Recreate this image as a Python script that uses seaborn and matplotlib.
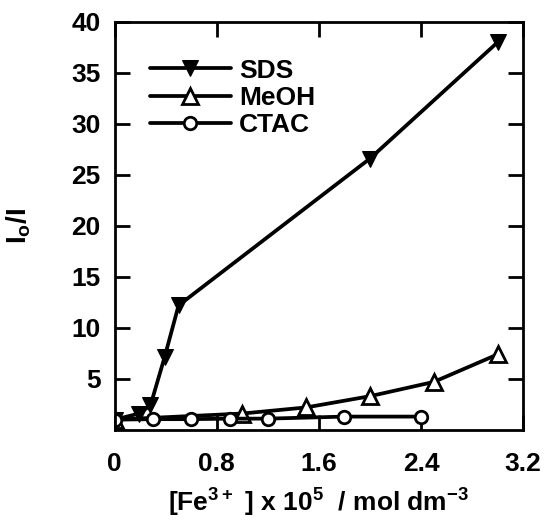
import matplotlib
matplotlib.use("Agg")
import matplotlib.pyplot as plt
import seaborn as sns
import pandas as pd

sns.set_theme(style="ticks")
plt.rcParams['font.family'] = ['Liberation Sans', 'DejaVu Sans']
plt.rcParams['font.weight'] = 'bold'
plt.rcParams['mathtext.default'] = 'regular'
plt.rcParams['text.color'] = 'black'
plt.rcParams['axes.labelcolor'] = 'black'
plt.rcParams['xtick.color'] = 'black'
plt.rcParams['ytick.color'] = 'black'

# Data
sds_x = [0, 0.19, 0.28, 0.39, 0.5, 2.0, 3.0]
sds_y = [1.0, 1.6, 2.4, 7.1, 12.2, 26.6, 38.0]
meoh_x = [0, 1.0, 1.5, 2.0, 2.5, 3.0]
meoh_y = [1.0, 1.6, 2.2, 3.3, 4.7, 7.4]
ctac_x = [0, 0.3, 0.6, 0.9, 1.2, 1.8, 2.4]
ctac_y = [1.0, 1.05, 1.05, 1.1, 1.1, 1.3, 1.3]

x_ticks = [0, 0.8, 1.6, 2.4, 3.2]
x_labels = ["0", "0.8", "1.6", "2.4", "3.2"]
y_ticks = [5, 10, 15, 20, 25, 30, 35, 40]


def main():
    fig = plt.figure(figsize=(5.49, 5.32), dpi=100)
    ax = fig.add_axes([0.209, 0.192, 0.744, 0.767])

    sns.lineplot(x=sds_x, y=sds_y, ax=ax, color="black", lw=2.7, marker="v",
                 ms=12, mfc="black", mec="black", label="SDS")
    sns.lineplot(x=meoh_x, y=meoh_y, ax=ax, color="black", lw=2.7, marker="^",
                 ms=11, mfc="white", mec="black", mew=2, label="MeOH")
    sns.lineplot(x=ctac_x, y=ctac_y, ax=ax, color="black", lw=2.7, marker="o",
                 ms=9, mfc="white", mec="black", mew=2, label="CTAC")

    ax.set_xlim(0, 3.2)
    ax.set_ylim(0, 40)
    ax.set_xticks(x_ticks)
    ax.set_xticklabels(x_labels)
    ax.set_yticks(y_ticks)

    ax.tick_params(direction="in", length=11, width=2, labelsize=19,
                   top=True, right=True)
    ax.tick_params(axis="x", pad=16)
    ax.tick_params(axis="y", pad=10)
    for s in ax.spines.values():
        s.set_linewidth(2)
        s.set_color("black")

    ax.set_xlabel("[Fe$^{3+}$ ] x 10$^{5}$  / mol dm$^{-3}$", fontsize=19,
                  fontweight="bold", labelpad=8)
    ax.set_ylabel("I$_{o}$/I", fontsize=20, fontweight="bold", labelpad=28)

    ax.legend(loc="upper left", frameon=False, fontsize=19, handlelength=3.1,
              handletextpad=0.3, labelspacing=0.12, borderaxespad=0.3,
              bbox_to_anchor=(0.04, 0.955))

    fig.savefig("out.png", dpi=100)


if __name__ == "__main__":
    main()
